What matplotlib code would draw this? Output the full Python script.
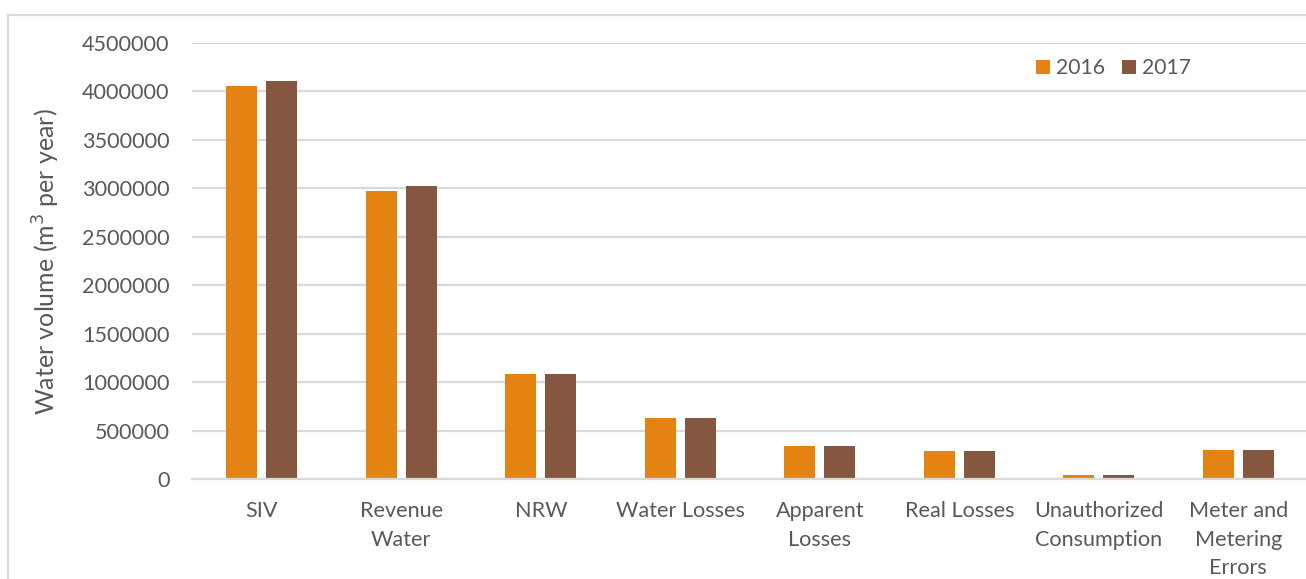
import matplotlib
matplotlib.use("Agg")
import matplotlib.pyplot as plt
import numpy as np
from matplotlib.lines import Line2D

plt.rcParams['font.family'] = ['Lato', 'DejaVu Sans']

categories = ["SIV", "Revenue\nWater", "NRW", "Water Losses", "Apparent\nLosses",
              "Real Losses", "Unauthorized\nConsumption", "Meter and\nMetering\nErrors"]
years = ["2016", "2017"]
values_2016 = [4055000, 2972000, 1081000, 630000, 341000, 292000, 41000, 296000]
values_2017 = [4105000, 3021000, 1081000, 633000, 343000, 289000, 41000, 302000]
yticks = [0, 500000, 1000000, 1500000, 2000000, 2500000, 3000000, 3500000, 4000000, 4500000]

W, H = 1306, 579
fig = plt.figure(figsize=(W / 100, H / 100), dpi=100)
ax = fig.add_axes([192 / W, 100 / H, 1116 / W, 436 / H])

grey = "#595959"
grid = "#d9d9d9"
c16 = "#e48312"
c17 = "#855640"

x = np.arange(len(categories))
bw = 0.222
off = 0.1425
ax.bar(x - off, values_2016, bw, color=c16, label=years[0], zorder=3)
ax.bar(x + off, values_2017, bw, color=c17, label=years[1], zorder=3)

ax.set_xlim(-0.5, len(categories) - 0.5)
ax.set_ylim(0, 4500000)
ax.set_yticks(yticks)
ax.set_yticklabels([str(v) for v in yticks])
ax.set_xticks(x)
ax.set_xticklabels(categories, linespacing=1.52)
ax.tick_params(axis='both', length=0, labelsize=15.6, colors=grey)
ax.tick_params(axis='y', pad=16)
ax.tick_params(axis='x', pad=16)

ax.grid(axis='y', color=grid, linewidth=1.6, zorder=0)
for s in ["top", "right", "left"]:
    ax.spines[s].set_visible(False)
ax.spines["bottom"].set_color(grid)
ax.spines["bottom"].set_linewidth(1.6)
ax.spines["bottom"].set_zorder(4)

fig.text(46 / W, 1 - 262 / H, "Water volume (m$^3$ per year)", rotation=90,
         ha="center", va="center", fontsize=18, color=grey)

leg = ax.legend(loc="upper left", bbox_to_anchor=((1036 - 192) / 1116, 1 - (58 - 43) / 436),
                ncol=2, frameon=False, fontsize=15.2, handlelength=0.65, handleheight=0.65,
                handletextpad=0.3, columnspacing=0.8, borderaxespad=0, borderpad=0)
for t in leg.get_texts():
    t.set_color(grey)

# chart-area border
fig.add_artist(Line2D([7.5 / W, 7.5 / W], [0, 1 - 14.5 / H], transform=fig.transFigure,
                      color=grid, linewidth=1.6))
fig.add_artist(Line2D([7.5 / W, 1], [1 - 14.5 / H, 1 - 14.5 / H], transform=fig.transFigure,
                      color=grid, linewidth=1.6))

fig.savefig("out.png", dpi=100)
